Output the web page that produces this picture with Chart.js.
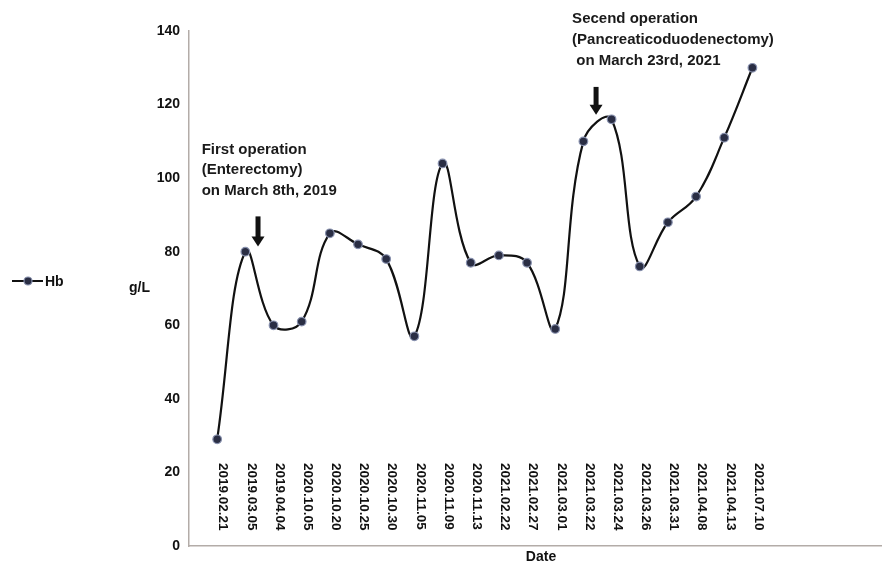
<!DOCTYPE html>
<html>
<head>
<meta charset="utf-8">
<script src="https://cdn.jsdelivr.net/npm/chart.js@4"></script>
<style>
html,body{margin:0;padding:0;background:#fff;}
#wrap{width:882px;height:565px;position:relative;}
</style>
</head>
<body>
<div id="wrap"><canvas id="c" width="882" height="565"></canvas></div>
<script>
// ---- data ----
const dateLabels = ["2019.02.21","2019.03.05","2019.04.04","2020.10.05","2020.10.20","2020.10.25","2020.10.30","2020.11.05","2020.11.09","2020.11.13","2021.02.22","2021.02.27","2021.03.01","2021.03.22","2021.03.24","2021.03.26","2021.03.31","2021.04.08","2021.04.13","2021.07.10"];
const hbValues = [29,80,60,61,85,82,78,57,104,77,79,77,59,110,116,76,88,95,111,130];
const yTicks = [0,20,40,60,80,100,120,140];
const seriesName = "Hb";
const yTitle = "g/L";
const xTitle = "Date";
const note1 = ["First operation","(Enterectomy)","on March 8th, 2019"];
const note2 = ["Secend operation","(Pancreaticoduodenectomy)"," on March 23rd, 2021"];
// arrow positions in data units (x index, y value top/bottom)
const arrow1 = {x:1.45, yTop:89.6, yBot:81.4};
const arrow2 = {x:13.45, yTop:124.8, yBot:117.2};

const FONT = "'Liberation Sans', Arial, sans-serif";
const pts = hbValues.map((v,i)=>({x:i,y:v}));

const POINT_FILL = '#2a2e44';
const POINT_EDGE = '#8790ad';

const overlay = {
  id:'overlay',
  afterDraw(chart){
    const ctx = chart.ctx;
    const xs = chart.scales.x, ys = chart.scales.y;
    ctx.save();
    ctx.fillStyle = '#111';
    // rotated date labels (clockwise)
    ctx.font = "bold 13.5px " + FONT;
    ctx.textAlign = 'left';
    ctx.textBaseline = 'middle';
    dateLabels.forEach((lab,i)=>{
      const px = xs.getPixelForValue(i) + 6;
      ctx.save();
      ctx.translate(px, 463);
      ctx.rotate(Math.PI/2);
      ctx.fillText(lab, 0, 0);
      ctx.restore();
    });
    // axis titles
    ctx.font = "bold 14px " + FONT;
    ctx.textAlign = 'left';
    ctx.fillText(yTitle, 129, 288);
    ctx.textAlign = 'center';
    ctx.fillText(xTitle, 541, 557);
    // legend
    ctx.strokeStyle = '#111';
    ctx.lineWidth = 2;
    ctx.beginPath(); ctx.moveTo(12,281); ctx.lineTo(43,281); ctx.stroke();
    ctx.beginPath(); ctx.arc(28,281,4,0,Math.PI*2);
    ctx.fillStyle = POINT_FILL; ctx.fill();
    ctx.lineWidth = 1.2; ctx.strokeStyle = POINT_EDGE; ctx.stroke();
    ctx.fillStyle = '#111';
    ctx.textAlign = 'left';
    ctx.font = "bold 14px " + FONT;
    ctx.fillText(seriesName, 45, 282);
    // annotations
    ctx.font = "bold 15px " + FONT;
    ctx.fillStyle = '#1a1a1a';
    ctx.textBaseline = 'middle';
    note1.forEach((t,k)=>ctx.fillText(t, xs.getPixelForValue(-0.55), ys.getPixelForValue(107.8) + k*20.5));
    note2.forEach((t,k)=>ctx.fillText(t, xs.getPixelForValue(12.6), ys.getPixelForValue(143.2) + k*20.8));
    // arrows
    [arrow1, arrow2].forEach(a=>{
      const ax = xs.getPixelForValue(a.x);
      const y0 = ys.getPixelForValue(a.yTop), y1 = ys.getPixelForValue(a.yBot);
      ctx.fillStyle = '#111';
      ctx.fillRect(ax-2.5, y0, 5, (y1-y0)-9);
      ctx.beginPath();
      ctx.moveTo(ax-6.5, y1-10);
      ctx.lineTo(ax+6.5, y1-10);
      ctx.lineTo(ax, y1);
      ctx.closePath();
      ctx.fill();
    });
    ctx.restore();
  }
};

new Chart(document.getElementById('c'), {
  type:'line',
  data:{
    datasets:[{
      label: seriesName,
      data: pts,
      borderColor:'#111',
      borderWidth:2.2,
      tension:0.4,
      pointRadius:4.3,
      pointBackgroundColor:POINT_FILL,
      pointBorderColor:POINT_EDGE,
      pointBorderWidth:1.2,
      fill:false,
      clip:false
    }]
  },
  options:{
    responsive:false,
    animation:false,
    devicePixelRatio:1,
    layout:{autoPadding:false,padding:{left:0,right:0,top:31,bottom:0}},
    plugins:{legend:{display:false},tooltip:{enabled:false}},
    scales:{
      x:{
        type:'linear',
        min:-1, max:23.6,
        grid:{display:false, drawTicks:false},
        border:{display:true,color:'#b3aca8',width:1.5},
        ticks:{display:false},
        afterFit(s){ s.height = 19; }
      },
      y:{
        min:0,max:140,
        afterBuildTicks(s){ s.ticks = yTicks.map(v=>({value:v})); },
        grid:{display:false, drawTicks:false},
        border:{display:true,color:'#b3aca8',width:1.5},
        ticks:{color:'#111',padding:9,font:{family:FONT,size:14,weight:'bold'}},
        afterFit(s){ s.width = 189; }
      }
    }
  },
  plugins:[overlay]
});
</script>
</body>
</html>
